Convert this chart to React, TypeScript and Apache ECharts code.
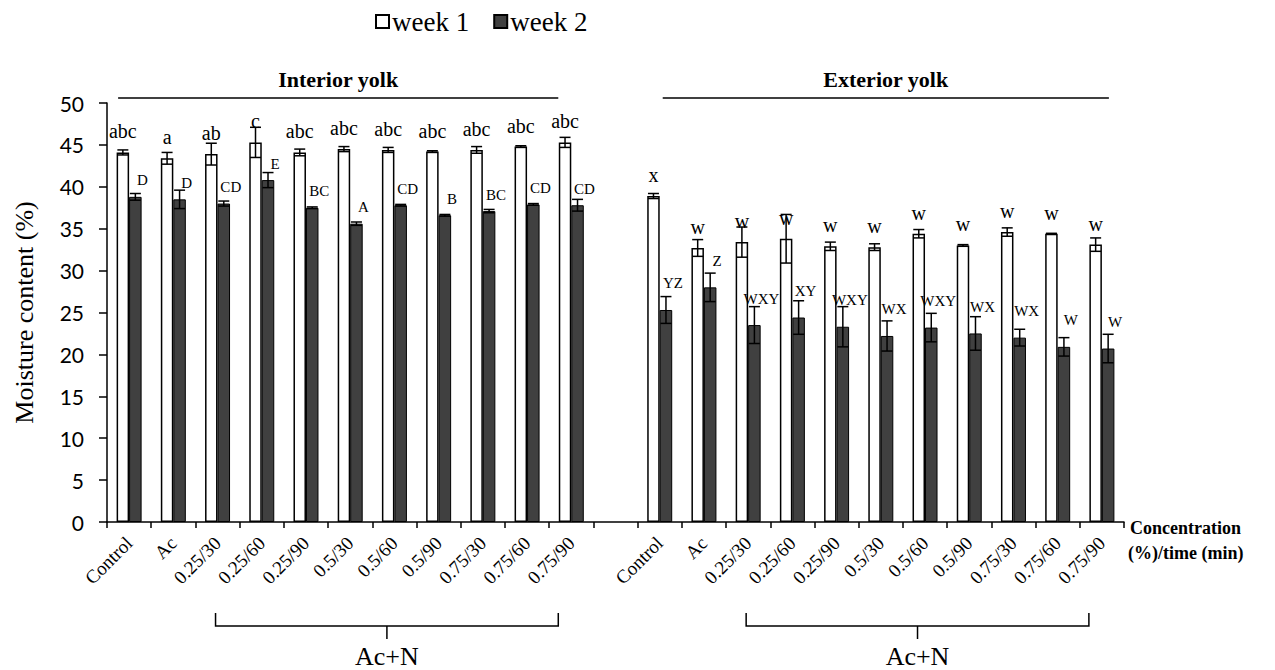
import React, { useEffect, useRef } from "react";
import * as echarts from "echarts";

// Treatments shown in each yolk block
const treatments = [
  "Control",
  "Ac",
  "0.25/30",
  "0.25/60",
  "0.25/90",
  "0.5/30",
  "0.5/60",
  "0.5/90",
  "0.75/30",
  "0.75/60",
  "0.75/90",
];

// Interior yolk moisture (%), mean and SD
const interiorWeek1 = [44.1, 43.4, 43.9, 45.3, 44.1, 44.5, 44.4, 44.2, 44.4, 44.8, 45.3];
const interiorWeek1Err = [0.3, 0.7, 1.3, 1.8, 0.4, 0.3, 0.3, 0.1, 0.4, 0.1, 0.6];
const interiorWeek2 = [38.8, 38.5, 38.0, 40.8, 37.5, 35.6, 37.8, 36.6, 37.1, 37.9, 37.8];
const interiorWeek2Err = [0.4, 1.1, 0.3, 0.9, 0.1, 0.2, 0.1, 0.1, 0.2, 0.1, 0.7];

// Exterior yolk moisture (%), mean and SD
const exteriorWeek1 = [38.9, 32.7, 33.4, 33.8, 32.9, 32.8, 34.4, 33.0, 34.6, 34.4, 33.1];
const exteriorWeek1Err = [0.3, 1.0, 1.8, 2.9, 0.5, 0.4, 0.5, 0.1, 0.5, 0.05, 0.8];
const exteriorWeek2 = [25.3, 28.0, 23.5, 24.4, 23.3, 22.2, 23.2, 22.5, 22.0, 20.9, 20.7];
const exteriorWeek2Err = [1.6, 1.7, 2.2, 2.0, 2.4, 1.8, 1.7, 2.0, 1.0, 1.1, 1.7];

// Significance letters
const interiorWeek1Letters = ["abc", "a", "ab", "c", "abc", "abc", "abc", "abc", "abc", "abc", "abc"];
const interiorWeek2Letters = ["D", "D", "CD", "E", "BC", "A", "CD", "B", "BC", "CD", "CD"];
const exteriorWeek1Letters = ["x", "w", "w", "w", "w", "w", "w", "w", "w", "w", "w"];
const exteriorWeek2Letters = ["YZ", "Z", "WXY", "XY", "WXY", "WX", "WXY", "WX", "WX", "W", "W"];

const yTicks = { min: 0, max: 50, step: 5 };

const SERIF = '"Liberation Serif", "Times New Roman", serif';
const SANS = 'Lato, "Open Sans", sans-serif';
const W = 1275;
const H = 670;
const GRID = { left: 107, right: 151, top: 103, bottom: 148 };
const BAR_W = 12.5;
const DARK = "#404040";

export default function App() {
  const ref = useRef<HTMLDivElement>(null);

  useEffect(() => {
    if (!ref.current) return;
    const chart = echarts.init(ref.current, null, { renderer: "svg" });

    const n = treatments.length;
    const categories = [...treatments, "", ...treatments];
    const week1: (number | null)[] = [...interiorWeek1, null, ...exteriorWeek1];
    const week2: (number | null)[] = [...interiorWeek2, null, ...exteriorWeek2];
    const err1 = [...interiorWeek1Err, 0, ...exteriorWeek1Err];
    const err2 = [...interiorWeek2Err, 0, ...exteriorWeek2Err];
    const letters1 = [...interiorWeek1Letters, "", ...exteriorWeek1Letters];
    const letters2 = [...interiorWeek2Letters, "", ...exteriorWeek2Letters];

    const barData = (
      vals: (number | null)[],
      letters: string[],
      distance: (i: number) => number,
      dx: number
    ) =>
      vals.map((v, i) =>
        v == null
          ? "-"
          : {
              value: v,
              label: {
                formatter: letters[i],
                distance: distance(i),
                offset: [dx, 0],
              },
            }
      );

    const errData = (vals: (number | null)[], errs: number[]) =>
      vals
        .map((v, i) => (v == null ? null : [i, v, errs[i]]))
        .filter((d) => d !== null) as number[][];

    const errorSeries = (name: string, vals: (number | null)[], errs: number[], side: number) => ({
      name,
      type: "custom",
      data: errData(vals, errs),
      encode: { x: 0, y: 1 },
      z: 10,
      silent: true,
      renderItem: (_params: any, api: any) => {
        const x = api.value(0);
        const v = api.value(1);
        const e = api.value(2);
        const top = api.coord([x, v + e]);
        const bot = api.coord([x, v - e]);
        const cx = top[0] + (side * BAR_W) / 2;
        const cap = 5.5;
        const st = { stroke: "#000", lineWidth: 1.5 };
        return {
          type: "group",
          children: [
            { type: "line", shape: { x1: cx, y1: top[1], x2: cx, y2: bot[1] }, style: st },
            { type: "line", shape: { x1: cx - cap, y1: top[1], x2: cx + cap, y2: top[1] }, style: st },
            { type: "line", shape: { x1: cx - cap, y1: bot[1], x2: cx + cap, y2: bot[1] }, style: st },
          ],
        };
      },
    });

    chart.setOption({
      animation: false,
      backgroundColor: "#fff",
      grid: { ...GRID, containLabel: false },
      legend: {
        data: ["week 1", "week 2"],
        left: 370,
        top: 3,
        icon: "rect",
        itemWidth: 13,
        itemHeight: 13,
        itemGap: 24,
        selectedMode: false,
        textStyle: { fontFamily: SERIF, fontSize: 27, color: "#000", padding: [0, 0, 0, -2] },
      },
      xAxis: {
        type: "category",
        data: categories,
        axisLine: { lineStyle: { color: "#000", width: 1.5 } },
        axisTick: { show: true, interval: 0, length: 6, lineStyle: { color: "#000", width: 1.5 } },
        axisLabel: {
          interval: 0,
          rotate: 45,
          margin: 18,
          fontFamily: SERIF,
          fontSize: 19,
          color: "#000",
        },
        splitLine: { show: false },
      },
      yAxis: {
        type: "value",
        min: yTicks.min,
        max: yTicks.max,
        interval: yTicks.step,
        name: "Moisture content (%)",
        nameLocation: "middle",
        nameGap: 70,
        nameTextStyle: { fontFamily: SERIF, fontSize: 26, color: "#000" },
        axisLine: { show: true, lineStyle: { color: "#000", width: 1.5 } },
        axisTick: { show: true, length: 8, lineStyle: { color: "#000", width: 1.5 } },
        axisLabel: { fontFamily: SANS, fontSize: 21, color: "#000", margin: 23 },
        splitLine: { show: false },
      },
      series: [
        {
          name: "week 1",
          type: "bar",
          barWidth: BAR_W,
          barGap: "0%",
          itemStyle: { color: "#fff", borderColor: "#000", borderWidth: 1.5 },
          label: {
            show: true,
            position: "top",
            fontFamily: SERIF,
            fontSize: 20,
            color: "#000",
          },
          data: barData(week1, letters1, () => 11, 0),
        },
        {
          name: "week 2",
          type: "bar",
          barWidth: BAR_W,
          barGap: "0%",
          itemStyle: { color: DARK, borderColor: "#000", borderWidth: 1 },
          label: {
            show: true,
            position: "top",
            fontFamily: SERIF,
            fontSize: 15,
            color: "#000",
          },
          data: barData(week2, letters2, (i) => (i > n ? 19 : 9), 7),
        },
        errorSeries("err1", week1, err1, -1),
        errorSeries("err2", week2, err2, 1),
      ],
    });

    // Group annotations placed from the category axis
    const cx = (i: number) => chart.convertToPixel({ xAxisIndex: 0 }, i) as number;
    const lineSt = { stroke: "#000", lineWidth: 1.5 };
    const topY = GRID.top - 5;
    const blocks = [
      { first: 0, title: "Interior yolk", s: -11, e: -13 },
      { first: n + 1, title: "Exterior yolk", s: 3, e: 7 },
    ];
    const graphic: any[] = [];
    blocks.forEach((b) => {
      const x1 = cx(b.first) + b.s;
      const x2 = cx(b.first + n - 1) + b.e;
      graphic.push({ type: "line", shape: { x1, y1: topY, x2, y2: topY }, style: lineSt });
      graphic.push({
        type: "text",
        style: {
          text: b.title,
          x: (x1 + x2) / 2,
          y: topY - 19,
          font: `bold 22px ${SERIF}`,
          fill: "#000",
          textAlign: "center",
          textVerticalAlign: "middle",
        },
      });
      // bracket under the Ac+N treatments
      const bx1 = cx(b.first + 2) - 2;
      const bx2 = cx(b.first + n - 1) - 13;
      const by = 626;
      const mid = (bx1 + bx2) / 2;
      graphic.push({
        type: "polyline",
        shape: { points: [[bx1, by - 13], [bx1, by], [bx2, by], [bx2, by - 13]] },
        style: { ...lineSt, fill: null },
      });
      graphic.push({ type: "line", shape: { x1: mid, y1: by, x2: mid, y2: by + 13 }, style: lineSt });
      graphic.push({
        type: "text",
        style: {
          text: "Ac+N",
          x: mid,
          y: by + 30,
          font: `26px ${SERIF}`,
          fill: "#000",
          textAlign: "center",
          textVerticalAlign: "middle",
        },
      });
    });
    const axisRight = W - GRID.right;
    graphic.push({
      type: "text",
      style: {
        text: "Concentration",
        x: axisRight + 6,
        y: H - GRID.bottom + 6,
        font: `bold 18px ${SERIF}`,
        fill: "#000",
        textAlign: "left",
        textVerticalAlign: "middle",
      },
    });
    graphic.push({
      type: "text",
      style: {
        text: "(%)/time (min)",
        x: axisRight + 4,
        y: H - GRID.bottom + 31,
        font: `bold 18px ${SERIF}`,
        fill: "#000",
        textAlign: "left",
        textVerticalAlign: "middle",
      },
    });
    chart.setOption({ graphic });

    return () => chart.dispose();
  }, []);

  return (
    <div
      ref={ref}
      style={{ position: "fixed", left: 0, top: 0, width: W, height: H, background: "#fff" }}
    />
  );
}
